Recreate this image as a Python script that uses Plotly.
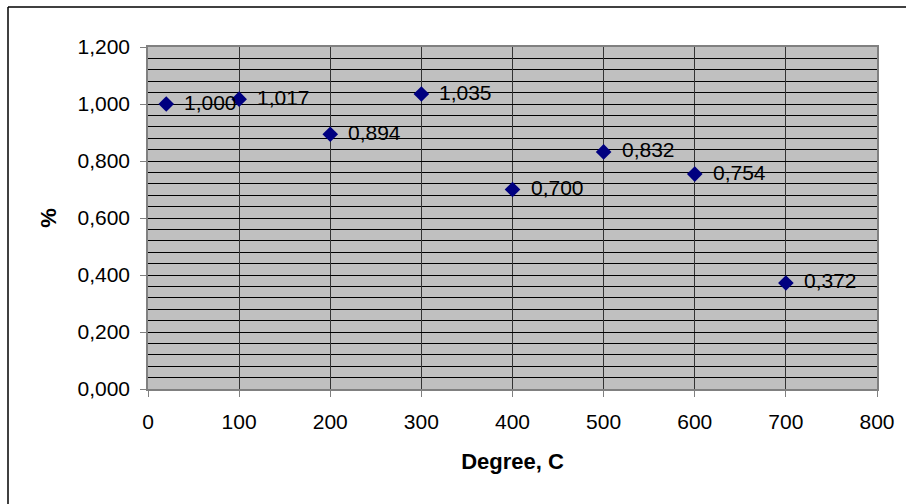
import plotly.graph_objects as go

# Measurements: temperature (degrees C) vs. relative value
degrees = [20, 100, 200, 300, 400, 500, 600, 700]
percent = [1.000, 1.017, 0.894, 1.035, 0.700, 0.832, 0.754, 0.372]

y_ticks = [0.0, 0.2, 0.4, 0.6, 0.8, 1.0, 1.2]
x_ticks = [0, 100, 200, 300, 400, 500, 600, 700, 800]

labels = [f"{v:.3f}".replace(".", ",") for v in percent]

W, H = 907, 504
L, R, T, B = 148, 30, 47, 115
pw, ph = W - L - R, H - T - B

FONT = "Liberation Sans, Arial, sans-serif"

fig = go.Figure(
    go.Scatter(
        x=degrees,
        y=percent,
        mode="markers",
        marker=dict(symbol="diamond", size=12, color="#000080"),
        cliponaxis=False,
        showlegend=False,
    )
)

# value labels to the right of each point
for xv, yv, lab in zip(degrees, percent, labels):
    fig.add_annotation(
        x=xv, y=yv, text=lab, showarrow=False,
        xanchor="left", yanchor="middle", xshift=16, yshift=2,
        font=dict(family=FONT, size=21, color="black"),
    )


def px_x(p):
    return (p - L) / pw


def px_y(p):
    return (H - B - p) / ph


# outer chart frame (top and left edges)
fig.add_shape(type="line", xref="paper", yref="paper",
              x0=px_x(8), x1=px_x(906), y0=px_y(7), y1=px_y(7),
              line=dict(color="black", width=1.5))
fig.add_shape(type="line", xref="paper", yref="paper",
              x0=px_x(8), x1=px_x(8), y0=px_y(7), y1=px_y(504),
              line=dict(color="black", width=1.5))

fig.update_layout(
    width=W,
    height=H,
    margin=dict(l=L, r=R, t=T, b=B),
    paper_bgcolor="white",
    plot_bgcolor="#C0C0C0",
    separators=",.",
    font=dict(family=FONT, size=21, color="black"),
    xaxis=dict(
        range=[0, 800],
        tickvals=x_ticks,
        ticks="outside",
        ticklen=6,
        tickcolor="#808080",
        showgrid=True,
        gridcolor="#333333",
        gridwidth=1,
        showline=True,
        linecolor="#808080",
        linewidth=1.5,
        mirror=True,
        zeroline=False,
        ticklabelstandoff=7,
        tickfont=dict(family=FONT, size=21),
        title=dict(text="<b>Degree, C</b>", font=dict(family=FONT, size=22), standoff=22),
    ),
    yaxis=dict(
        range=[0, 1.2],
        tickvals=y_ticks,
        tickformat=".3f",
        ticks="outside",
        ticklen=6,
        tickcolor="#808080",
        showgrid=True,
        gridcolor="black",
        gridwidth=1,
        minor=dict(dtick=0.04, showgrid=True, gridcolor="black", gridwidth=1, ticks=""),
        showline=True,
        linecolor="#808080",
        linewidth=1.5,
        mirror=True,
        zeroline=False,
        ticklabelstandoff=6,
        tickfont=dict(family=FONT, size=21),
        title=dict(text="<b>%</b>", font=dict(family=FONT, size=22), standoff=15),
    ),
)

fig.write_html("out.html")
